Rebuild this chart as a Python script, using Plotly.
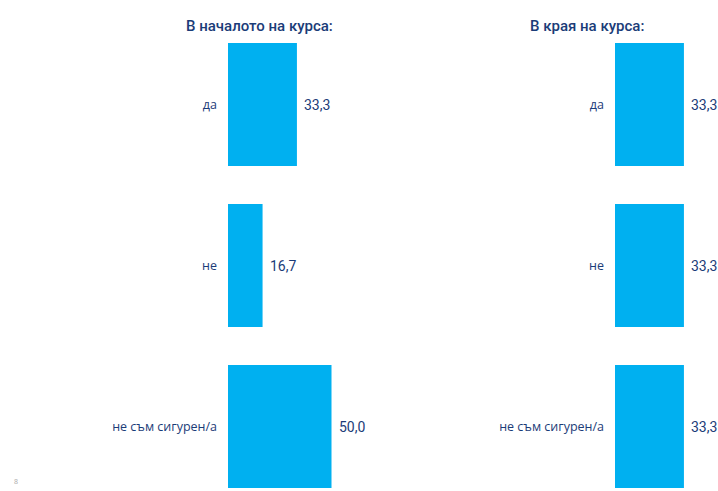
import plotly.graph_objects as go
from plotly.subplots import make_subplots

categories = ["да", "не", "не съм сигурен/а"]
start_values = [33.3, 16.7, 50.0]
end_values = [33.3, 33.3, 33.3]
start_labels = ["33,3", "16,7", "50,0"]
end_labels = ["33,3", "33,3", "33,3"]

BAR = "#00B0F0"
NAVY = "#1B3C78"
W, H = 718, 491
PX = 2.07  # pixels per unit on both panels

fig = make_subplots(rows=1, cols=2)

for col, vals in [(1, start_values), (2, end_values)]:
    fig.add_trace(go.Bar(
        x=vals, y=categories, orientation="h",
        marker=dict(color=BAR, line=dict(width=0)),
        hoverinfo="x+y",
    ), row=1, col=col)

# value labels just past the end of each bar
for col, vals, labels in [(1, start_values, start_labels), (2, end_values, end_labels)]:
    xref = "x" if col == 1 else "x2"
    yref = "y" if col == 1 else "y2"
    for cat, v, lab in zip(categories, vals, labels):
        fig.add_annotation(
            x=v, y=cat, xref=xref, yref=yref, text=lab,
            showarrow=False, xanchor="left", xshift=5,
            font=dict(size=14, color=NAVY, family="Roboto"),
        )

fig.update_layout(
    xaxis=dict(domain=[228 / W, 378 / W], range=[0, 150 / PX], visible=False),
    xaxis2=dict(domain=[615 / W, 715 / W], range=[0, 100 / PX], visible=False),
)

for ax in ["yaxis", "yaxis2"]:
    fig.layout[ax].update(
        autorange=False, range=[2.382, -0.382], automargin=False,
        showgrid=False, zeroline=False, showline=False,
        ticks="", ticklabelstandoff=10,
        tickfont=dict(size=12.5, color=NAVY, family="Open Sans"),
    )

fig.add_annotation(text="В началото на курса:", x=259.5 / W, y=1, xref="paper",
                   yref="paper", yanchor="bottom", yshift=6, showarrow=False,
                   font=dict(size=15, color=NAVY, family="Roboto", weight=500))
fig.add_annotation(text="В края на курса:", x=645.5 / W, y=1, xref="paper",
                   yref="paper", yanchor="bottom", yshift=6, showarrow=False,
                   font=dict(size=15, color=NAVY, family="Roboto", weight=500))
fig.add_annotation(text="8", x=12 / W, y=0, xref="paper", yref="paper",
                   showarrow=False, yanchor="bottom",
                   font=dict(size=7, color="#aaaaaa"))

fig.update_layout(
    width=W, height=H,
    margin=dict(l=0, r=0, t=43, b=3),
    bargap=0.236,
    showlegend=False,
    plot_bgcolor="white",
    paper_bgcolor="white",
)

fig.write_html(
    "out.html",
    config={"displayModeBar": False},
    post_script="document.body.style.margin='0';document.body.style.overflow='hidden';",
)
